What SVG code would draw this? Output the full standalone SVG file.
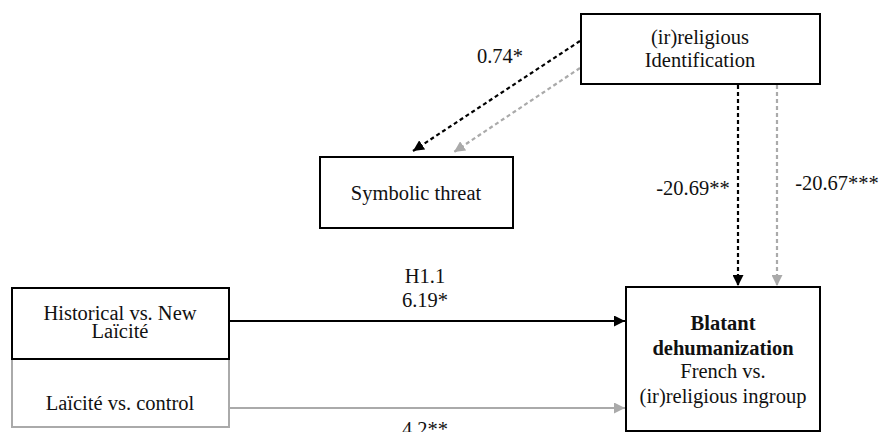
<svg xmlns="http://www.w3.org/2000/svg" width="880" height="432" viewBox="0 0 880 432">
<style>
text{font-family:'Liberation Serif','Times New Roman',Times,serif;font-size:20.5px;fill:#111;text-anchor:middle}
.b{font-weight:bold}
.box{fill:#fff;stroke:#000;stroke-width:2}
.gbox{fill:#fff;stroke:#aaa;stroke-width:2}
.k{stroke:#000;stroke-width:2.2;fill:none}
.g{stroke:#aaa;stroke-width:2.2;fill:none}
.d{stroke-dasharray:4 3}
</style>
<defs>
<marker id="ak" viewBox="0 0 10 10" refX="10" refY="5" markerWidth="5" markerHeight="5" orient="auto" markerUnits="strokeWidth"><path d="M0,0L10,5L0,10z" fill="#000"/></marker>
<marker id="ag" viewBox="0 0 10 10" refX="10" refY="5" markerWidth="5" markerHeight="5" orient="auto" markerUnits="strokeWidth"><path d="M0,0L10,5L0,10z" fill="#aaa"/></marker>
</defs>
<g id="connectors">
<line class="k d" x1="580" y1="41" x2="413" y2="151" marker-end="url(#ak)"/>
<line class="g d" x1="580" y1="68" x2="454" y2="152" marker-end="url(#ag)"/>
<line class="k d" x1="738" y1="85" x2="738" y2="286" marker-end="url(#ak)"/>
<line class="g d" x1="777" y1="85" x2="777" y2="286" marker-end="url(#ag)"/>
<line class="k" x1="229" y1="321" x2="625" y2="321" marker-end="url(#ak)"/>
<line class="g" x1="229" y1="408" x2="625" y2="408" marker-end="url(#ag)"/>
<text font-family="Liberation Serif, serif" x="500" y="63">0.74*</text>
<text font-family="Liberation Serif, serif" x="693" y="195">-20.69**</text>
<text font-family="Liberation Serif, serif" x="837" y="190">-20.67***</text>
<text font-family="Liberation Serif, serif" x="425" y="283">H1.1</text>
<text font-family="Liberation Serif, serif" x="425" y="307">6.19*</text>
<text font-family="Liberation Serif, serif" x="425" y="436">4.2**</text>
</g>
<g id="identification">
<rect class="box" x="581" y="14" width="239" height="70"/>
<text x="700" y="44">(ir)religious</text>
<text x="700" y="67">Identification</text>
</g>
<g id="symbolic">
<rect class="box" x="320" y="157" width="193" height="71"/>
<text x="416" y="200">Symbolic threat</text>
</g>
<g id="laicite-control">
<rect class="gbox" x="12" y="359" width="217" height="68"/>
<text x="120" y="410">Laïcité vs. control</text>
</g>
<g id="historical">
<rect class="box" x="12" y="288" width="217" height="71"/>
<text x="120" y="320">Historical vs. New</text>
<text x="120" y="338">Laïcité</text>
</g>
<g id="blatant">
<rect class="box" x="626" y="287" width="194" height="144"/>
<text class="b" x="723" y="330">Blatant</text>
<text class="b" x="723" y="355">dehumanization</text>
<text x="723" y="378">French vs.</text>
<text x="723" y="403">(ir)religious ingroup</text>
</g>
</svg>
